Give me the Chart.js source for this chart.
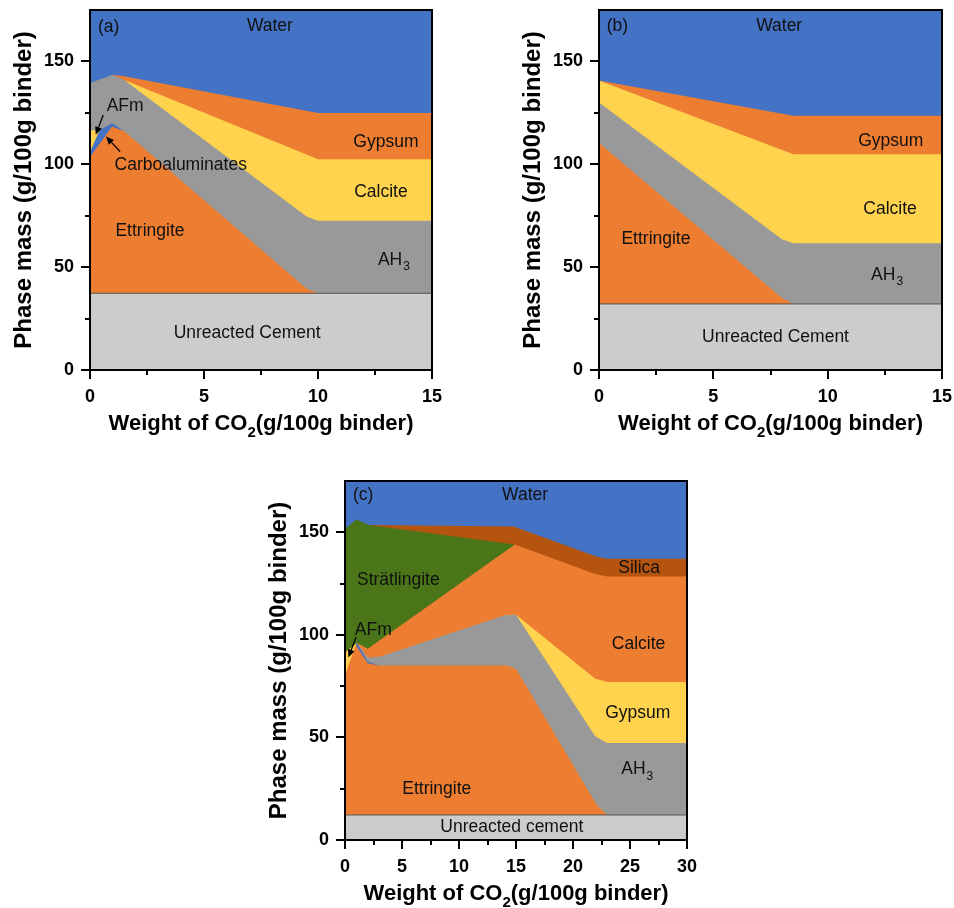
<!DOCTYPE html>
<html><head><meta charset="utf-8">
<script src="https://cdn.jsdelivr.net/npm/chart.js@4.4.0/dist/chart.umd.min.js"></script>
<style>
html,body{margin:0;padding:0;background:#fff;}
body{width:954px;height:908px;position:relative;overflow:hidden;}
canvas{position:absolute;}
</style></head><body>
<canvas id="ca" width="470" height="445" style="left:0;top:0"></canvas>
<canvas id="cb" width="445" height="445" style="left:509px;top:0"></canvas>
<canvas id="cc" width="470" height="437" style="left:255px;top:471px"></canvas>
<script>
// ---------- DATA: upper boundary of each stacked phase (cumulative g/100g binder) vs CO2 (g/100g binder)
// Panel (a)
const aUnreacted  = [[0,37.3],[15,37.3]];
const aEttringite = [[0,103.5],[0.97,118.4],[1.5,116],[9.5,39.5],[10,37.3]];
const aCarbo      = [[0,106],[0.42,116.6],[0.97,119.9],[1.5,116]];
const aAFm        = [[0,116.6],[0.42,116.6]];
const aAH3        = [[0,139.5],[1,143.5],[1.5,141],[9.5,74.6],[10,72.5],[15,72.5]];
const aCalcite    = [[1.5,141],[10,102.5],[15,102.5]];
const aGypsum     = [[1,143.5],[1.5,142.8],[10,124.9],[15,124.9]];
const aWater      = [[0,175],[15,175]];
// Panel (b)
const bUnreacted  = [[0,32.1],[15,32.1]];
const bEttringite = [[0,110.3],[8.0,35],[8.5,32.1]];
const bAH3        = [[0,130],[8,63.6],[8.5,61.6],[15,61.6]];
const bCalcite    = [[0,140.7],[8.5,104.9],[15,104.9]];
const bGypsum     = [[0,140.7],[8.5,123.6],[15,123.6]];
const bWater      = [[0,175],[15,175]];
// Panel (c)
const cUnreacted  = [[0,12.2],[30,12.2]];
const cEttringite = [[0,80.5],[0.95,95],[2,86.2],[3,85.1],[14.2,85.1],[15,83.5],[22.1,17],[23,12.2]];
const cCarbo      = [[0.95,95],[1.05,96],[2,87],[3,85.1]];
const cAFm        = [[0,91.5],[1.05,96]];
const cAH3        = [[1.05,96],[2,89],[3.1,89.5],[14,109.5],[15,109.8],[21.95,50.6],[23,47.3],[30,47.3]];
const cGypsum     = [[14,109.5],[15,109.8],[21.95,78.6],[23,77],[30,77]];
const cCalcite    = [[1.05,96],[2,93.2],[14.9,144.1],[21.95,129.7],[23,128.4],[30,128.4]];
const cStratlingite = [[0,151.6],[1,156.2],[2.1,153.5],[14.9,144.1]];
const cSilica     = [[2.1,153.5],[14.8,152.8],[22.1,138.1],[23,137.1],[30,137.1]];
const cWater      = [[0,175],[30,175]];
// Axis ranges / tick steps
const yMax = 175, yStep = 25, yLabelEvery = 50;
const xMaxAB = 15, xMaxC = 30, xStep = 2.5, xLabelEvery = 5;

// ---------- STYLE
const FONT = "'Liberation Sans', Arial, Helvetica, sans-serif";
const C = {
  water:'#4472c4', orange:'#ed7d31', yellow:'#ffd34e', gray:'#999999',
  unreacted:'#cccccc', green:'#4a7518', brown:'#b4540f', blue:'#4472c4'
};

function makeDatasets(layers){
  return layers.map((L,i)=>({
    label:L[0],
    data:L[1].map(p=>({x:p[0],y:p[1]})),
    backgroundColor:L[2],
    borderColor:L[3]||'rgba(0,0,0,0)',
    borderWidth:L[3]?1:0,
    fill:'origin', pointRadius:0, tension:0, order:i
  }));
}

const decor = {
  id:'decor',
  afterDatasetsDraw(chart){
    const o = chart.options.plugins.decor;
    const {ctx, chartArea:a, scales:{x,y}} = chart;
    ctx.save();
    // labels
    ctx.fillStyle = '#111';
    ctx.textBaseline = 'middle';
    (o.labels||[]).forEach(L=>{
      const px = x.getPixelForValue(L.x), py = y.getPixelForValue(L.y);
      ctx.font = '17.5px ' + FONT;
      ctx.textAlign = L.align||'center';
      ctx.fillText(L.t, px, py);
      if (L.sub){
        const w = ctx.measureText(L.t).width;
        ctx.font = '12px ' + FONT;
        ctx.textAlign = 'left';
        const sx = (L.align==='left') ? px + w : px + w/2;
        ctx.fillText(L.sub, sx+1, py+7);
      }
    });
    // arrows
    ctx.strokeStyle = '#000'; ctx.fillStyle = '#000'; ctx.lineWidth = 1.3;
    (o.arrows||[]).forEach(A=>{
      const x1=x.getPixelForValue(A[0]), y1=y.getPixelForValue(A[1]);
      const x2=x.getPixelForValue(A[2]), y2=y.getPixelForValue(A[3]);
      const ang=Math.atan2(y2-y1,x2-x1), hl=8, hw=3.5;
      const bx=x2-hl*Math.cos(ang), by=y2-hl*Math.sin(ang);
      ctx.beginPath(); ctx.moveTo(x1,y1); ctx.lineTo(bx,by); ctx.stroke();
      ctx.beginPath(); ctx.moveTo(x2,y2);
      ctx.lineTo(bx+hw*Math.sin(ang), by-hw*Math.cos(ang));
      ctx.lineTo(bx-hw*Math.sin(ang), by+hw*Math.cos(ang));
      ctx.closePath(); ctx.fill();
    });
    // frame
    ctx.strokeStyle='#000'; ctx.lineWidth=2;
    ctx.strokeRect(a.left, a.top, a.right-a.left, a.bottom-a.top);
    // tick marks
    ctx.beginPath();
    y.ticks.forEach(t=>{
      const py=Math.round(y.getPixelForValue(t.value));
      if (t.value>=yMax) return;
      const len = t.value % yLabelEvery === 0 ? 9 : 5;
      ctx.moveTo(a.left, py); ctx.lineTo(a.left-len, py);
    });
    x.ticks.forEach(t=>{
      const px=Math.round(x.getPixelForValue(t.value));
      const len = t.value % xLabelEvery === 0 ? 9 : 5;
      ctx.moveTo(px, a.bottom); ctx.lineTo(px, a.bottom+len);
    });
    ctx.stroke();
    // x title with subscript
    ctx.fillStyle='#000'; ctx.textBaseline='alphabetic'; ctx.textAlign='left';
    const big='bold 22px '+FONT, small='bold 15px '+FONT;
    const p1='Weight of CO', p2='2', p3='(g/100g binder)';
    ctx.font=big; const w1=ctx.measureText(p1).width, w3=ctx.measureText(p3).width;
    ctx.font=small; const w2=ctx.measureText(p2).width;
    let sx=(a.left+a.right)/2-(w1+w2+w3)/2; const by=a.bottom+60;
    ctx.font=big; ctx.fillText(p1,sx,by); sx+=w1;
    ctx.font=small; ctx.fillText(p2,sx,by+7); sx+=w2;
    ctx.font=big; ctx.fillText(p3,sx,by);
    ctx.restore();
  }
};

function makeChart(id, layers, xMax, pad, xH, decorOpts){
  return new Chart(document.getElementById(id), {
    type:'line',
    data:{datasets:makeDatasets(layers)},
    options:{
      responsive:false, animation:false, events:[],
      layout:{padding:pad},
      plugins:{legend:{display:false}, tooltip:{enabled:false}, decor:decorOpts},
      scales:{
        x:{type:'linear', min:0, max:xMax,
           ticks:{stepSize:xStep, autoSkip:false, maxRotation:0, padding:7, color:'#000',
                  font:{family:FONT, weight:'bold', size:18},
                  callback:v=> (v % xLabelEvery === 0 ? v : '')},
           grid:{display:true, drawOnChartArea:false, drawTicks:true, tickLength:9, color:'rgba(0,0,0,0)'},
           border:{display:false},
           afterFit(s){ s.height=xH; s.paddingLeft=0; s.paddingRight=0; s.paddingTop=0; s.paddingBottom=0; }},
        y:{min:0, max:yMax,
           ticks:{stepSize:yStep, autoSkip:false, padding:7, color:'#000',
                  font:{family:FONT, weight:'bold', size:18},
                  callback:v=> (v % yLabelEvery === 0 ? v : '')},
           grid:{display:true, drawOnChartArea:false, drawTicks:true, tickLength:9, color:'rgba(0,0,0,0)'},
           border:{display:false},
           title:{display:true, text:'Phase mass (g/100g binder)', color:'#000',
                  font:{family:FONT, weight:'bold', size:24}, padding:{top:10, bottom:0}},
           afterFit(s){ s.width=90; s.paddingLeft=0; s.paddingRight=0; s.paddingTop=0; s.paddingBottom=0; }}
      }
    },
    plugins:[decor]
  });
}

makeChart('ca', [
  ['Unreacted Cement', aUnreacted, C.unreacted, '#555'],
  ['Ettringite', aEttringite, C.orange],
  ['Carboaluminates', aCarbo, C.blue],
  ['AFm', aAFm, C.yellow],
  ['AH3', aAH3, C.gray],
  ['Calcite', aCalcite, C.yellow],
  ['Gypsum', aGypsum, C.orange],
  ['Water', aWater, C.water]
], xMaxAB, {left:0, top:10, right:38, bottom:0}, 75, {
  labels:[
    {t:'(a)', x:0.35, y:166.8, align:'left'},
    {t:'Water', x:7.89, y:167.3},
    {t:'Gypsum', x:12.98, y:110.9},
    {t:'Calcite', x:12.76, y:86.6},
    {t:'Ettringite', x:2.63, y:67.6},
    {t:'AH', sub:'3', x:13.16, y:53.5},
    {t:'Unreacted Cement', x:6.89, y:18},
    {t:'Carboaluminates', x:3.98, y:99.7},
    {t:'AFm', x:1.54, y:128.1}
  ],
  arrows:[[0.58,124,0.25,114.3],[1.32,106.2,0.70,113.5]]
});

makeChart('cb', [
  ['Unreacted Cement', bUnreacted, C.unreacted, '#555'],
  ['Ettringite', bEttringite, C.orange],
  ['AH3', bAH3, C.gray],
  ['Calcite', bCalcite, C.yellow],
  ['Gypsum', bGypsum, C.orange],
  ['Water', bWater, C.water]
], xMaxAB, {left:0, top:10, right:12, bottom:0}, 75, {
  labels:[
    {t:'(b)', x:0.34, y:167, align:'left'},
    {t:'Water', x:7.88, y:167},
    {t:'Gypsum', x:12.76, y:111},
    {t:'Calcite', x:12.73, y:78.3},
    {t:'Ettringite', x:2.49, y:63.7},
    {t:'AH', sub:'3', x:12.43, y:46.2},
    {t:'Unreacted Cement', x:7.72, y:15.8}
  ],
  arrows:[]
});

makeChart('cc', [
  ['Unreacted cement', cUnreacted, C.unreacted, '#555'],
  ['Ettringite', cEttringite, C.orange],
  ['Carboaluminates', cCarbo, C.blue],
  ['AFm', cAFm, C.yellow],
  ['AH3', cAH3, C.gray],
  ['Gypsum', cGypsum, C.yellow],
  ['Calcite', cCalcite, C.orange],
  ['Strätlingite', cStratlingite, C.green],
  ['Silica', cSilica, C.brown],
  ['Water', cWater, C.water]
], xMaxC, {left:0, top:10, right:38, bottom:0}, 68, {
  labels:[
    {t:'(c)', x:0.7, y:168.2, align:'left'},
    {t:'Water', x:15.8, y:168.2},
    {t:'Silica', x:25.8, y:132.3},
    {t:'Strätlingite', x:4.68, y:126.8},
    {t:'AFm', x:2.48, y:102.1},
    {t:'Calcite', x:25.75, y:95.3},
    {t:'Gypsum', x:25.68, y:61.9},
    {t:'AH', sub:'3', x:25.3, y:34.5},
    {t:'Ettringite', x:8.05, y:24.8},
    {t:'Unreacted cement', x:14.63, y:6.1}
  ],
  arrows:[[0.97,98.9,0.3,89]]
});
</script>
</body></html>
